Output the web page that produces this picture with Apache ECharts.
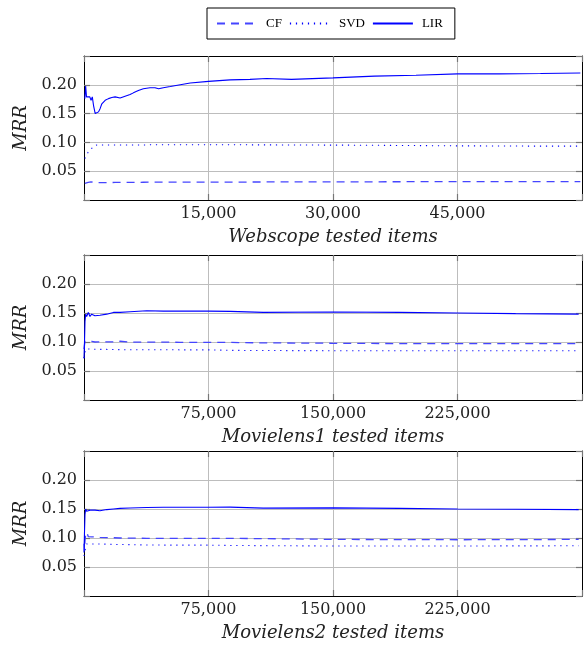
<!DOCTYPE html>
<html>
<head>
<meta charset="utf-8">
<script src="https://cdn.jsdelivr.net/npm/echarts@6/dist/echarts.min.js"></script>
<style>
html,body{margin:0;padding:0;background:#fff;}
#chart{width:585px;height:645px;}
</style>
</head>
<body>
<div id="chart"></div>
<script>
// ---------- Data ----------
const seriesNames = ['CF', 'SVD', 'LIR'];
const panelTitles = ['Webscope tested items', 'Movielens1 tested items', 'Movielens2 tested items'];

const yTicks = [0.05, 0.10, 0.15, 0.20];
const webscopeTicks = [15000, 30000, 45000];
const movielensTicks = [75000, 150000, 225000];

// Webscope
const webscopeX   = [100, 200, 300, 500, 700, 850, 1000, 1150, 1350, 1550, 1750, 1950, 2150, 2550, 2950, 3350, 3750, 4350, 4950, 5550, 5950, 6550, 7150, 7950, 8550, 9000, 9550, 10400, 11600, 12800, 15000, 17600, 20000, 22000, 25000, 30000, 35000, 40000, 45000, 50000, 55000, 59800];
const webscopeLIR = [0.176, 0.198, 0.179, 0.176, 0.179, 0.173, 0.179, 0.164, 0.150, 0.150, 0.153, 0.159, 0.167, 0.173, 0.176, 0.178, 0.179, 0.177, 0.180, 0.183, 0.186, 0.190, 0.193, 0.195, 0.195, 0.193, 0.195, 0.197, 0.200, 0.203, 0.206, 0.2085, 0.2095, 0.211, 0.2095, 0.212, 0.215, 0.2165, 0.219, 0.219, 0.2195, 0.2205];
const webscopeSVD = [0.072, 0.075, 0.078, 0.083, 0.086, 0.088, 0.091, 0.094, 0.095, 0.0955, 0.0955, 0.0955, 0.0955, 0.0955, 0.0955, 0.0955, 0.0955, 0.0955, 0.0955, 0.0955, 0.0955, 0.0955, 0.0955, 0.0958, 0.0958, 0.0958, 0.0958, 0.0958, 0.096, 0.096, 0.096, 0.096, 0.0958, 0.0957, 0.0955, 0.0953, 0.095, 0.0945, 0.094, 0.0938, 0.0935, 0.0935];
const webscopeCF  = [0.029, 0.029, 0.030, 0.0305, 0.031, 0.0315, 0.031, 0.0305, 0.0303, 0.0302, 0.0302, 0.0302, 0.0302, 0.0303, 0.0303, 0.0304, 0.0305, 0.0305, 0.0305, 0.0306, 0.0306, 0.0307, 0.0308, 0.0309, 0.031, 0.031, 0.031, 0.031, 0.031, 0.031, 0.031, 0.031, 0.0312, 0.0313, 0.0314, 0.0315, 0.0316, 0.0318, 0.032, 0.032, 0.032, 0.032];

// Movielens1
const ml1X   = [0, 300, 600, 1000, 1600, 2600, 3600, 4600, 6600, 9600, 13700, 17700, 21700, 27800, 37800, 47900, 57900, 75000, 88000, 108000, 150000, 190000, 225000, 260000, 298000];
const ml1LIR = [0.072, 0.100, 0.1355, 0.148, 0.144, 0.151, 0.144, 0.148, 0.1453, 0.146, 0.148, 0.151, 0.151, 0.1522, 0.154, 0.1533, 0.1533, 0.1533, 0.1528, 0.151, 0.1518, 0.151, 0.150, 0.149, 0.148];
const ml1SVD = [0.072, 0.075, 0.083, 0.088, 0.088, 0.088, 0.088, 0.0878, 0.0875, 0.0873, 0.0872, 0.087, 0.0868, 0.0867, 0.0866, 0.0866, 0.0865, 0.0865, 0.0856, 0.0853, 0.085, 0.085, 0.085, 0.085, 0.085];
const ml1CF  = [0.088, 0.095, 0.101, 0.101, 0.100, 0.1005, 0.1005, 0.101, 0.100, 0.1003, 0.1003, 0.1003, 0.1013, 0.0998, 0.0998, 0.0998, 0.0995, 0.0995, 0.0993, 0.0985, 0.0978, 0.0973, 0.0971, 0.0971, 0.0971];

// Movielens2
const ml2X   = [0, 300, 600, 1000, 1600, 2600, 3600, 4600, 6600, 9600, 13700, 17700, 21700, 27800, 37800, 47900, 57900, 75000, 88000, 108000, 150000, 190000, 225000, 260000, 298000];
const ml2LIR = [0.075, 0.110, 0.140, 0.150, 0.146, 0.149, 0.148, 0.149, 0.148, 0.147, 0.149, 0.150, 0.151, 0.1517, 0.1525, 0.153, 0.153, 0.153, 0.1533, 0.1515, 0.152, 0.151, 0.150, 0.1495, 0.149];
const ml2SVD = [0.069, 0.070, 0.078, 0.085, 0.0897, 0.089, 0.0895, 0.0897, 0.0897, 0.0897, 0.0893, 0.089, 0.0888, 0.0885, 0.0879, 0.0878, 0.0877, 0.0877, 0.0872, 0.0868, 0.0862, 0.0862, 0.0862, 0.0864, 0.0866];
const ml2CF  = [0.090, 0.078, 0.095, 0.105, 0.110, 0.1023, 0.1025, 0.102, 0.102, 0.101, 0.1005, 0.1005, 0.100, 0.0998, 0.0995, 0.0995, 0.0995, 0.0995, 0.0993, 0.099, 0.0976, 0.0972, 0.097, 0.0972, 0.0976];

const panels = [
  {x: webscopeX, cf: webscopeCF, svd: webscopeSVD, lir: webscopeLIR, xMax: 60000, xInterval: 15000, title: panelTitles[0]},
  {x: ml1X, cf: ml1CF, svd: ml1SVD, lir: ml1LIR, xMax: 300000, xInterval: 75000, title: panelTitles[1]},
  {x: ml2X, cf: ml2CF, svd: ml2SVD, lir: ml2LIR, xMax: 300000, xInterval: 75000, title: panelTitles[2]}
];

// ---------- Layout / style ----------
const FONT = 'DejaVu Serif';
const BLUE = '#0000ff';
const LIGHTBLUE = '#4545ff';
const gridTops = [56, 255, 451];
const gridHeights = [144, 145, 145];

const grids = [], xAxes = [], yAxes = [], series = [];

panels.forEach((p, i) => {
  grids.push({left: 84, right: 3, top: gridTops[i], height: gridHeights[i]});
  const xLabelFmt = v => (v <= 0 || v >= p.xMax) ? '' : v.toLocaleString('en-US');
  const baseX = {
    type: 'value', gridIndex: i, min: 0, max: p.xMax, interval: p.xInterval,
    axisLine: {show: true, onZero: false, lineStyle: {color: '#000', width: 1}},
    axisTick: {show: true, inside: true, length: 6, lineStyle: {color: '#777', width: 1.2}},
    splitLine: {show: false}
  };
  xAxes.push(Object.assign({}, baseX, {
    position: 'bottom',
    axisLabel: {show: true, formatter: xLabelFmt, fontFamily: FONT, fontSize: 16, color: '#222', margin: 6},
    splitLine: {show: true, lineStyle: {color: '#bdbdbd', width: 1}},
    name: p.title, nameLocation: 'middle', nameGap: 28,
    nameTextStyle: {fontFamily: FONT, fontStyle: 'italic', fontSize: 18, color: '#222'}
  }));
  xAxes.push(Object.assign({}, baseX, {position: 'top', axisLabel: {show: false}}));

  const baseY = {
    type: 'value', gridIndex: i, min: 0, max: 0.25, interval: 0.05,
    axisLine: {show: true, onZero: false, lineStyle: {color: '#000', width: 1}},
    axisTick: {show: true, inside: true, length: 6, lineStyle: {color: '#777', width: 1.2}},
    splitLine: {show: false}
  };
  yAxes.push(Object.assign({}, baseY, {
    position: 'left',
    axisLabel: {show: true, formatter: v => (v <= 0.001 || v >= 0.249) ? '' : v.toFixed(2),
      fontFamily: FONT, fontSize: 16, color: '#222', margin: 7},
    splitLine: {show: true, lineStyle: {color: '#bdbdbd', width: 1}},
    name: 'MRR', nameLocation: 'middle', nameGap: 52,
    nameTextStyle: {fontFamily: FONT, fontStyle: 'italic', fontSize: 18, color: '#222'}
  }));
  yAxes.push(Object.assign({}, baseY, {position: 'right', axisLabel: {show: false}}));

  const pair = arr => p.x.map((xv, k) => [xv, arr[k]]);
  const common = {type: 'line', xAxisIndex: 2 * i, yAxisIndex: 2 * i, symbol: 'none', silent: true, animation: false};
  series.push(Object.assign({}, common, {name: seriesNames[0], data: pair(p.cf),
    lineStyle: {color: LIGHTBLUE, width: 1.3, type: [8, 6]}, itemStyle: {color: LIGHTBLUE}}));
  series.push(Object.assign({}, common, {name: seriesNames[1], data: pair(p.svd),
    lineStyle: {color: BLUE, width: 1.1, type: [1.2, 4.8]}, itemStyle: {color: BLUE}}));
  series.push(Object.assign({}, common, {name: seriesNames[2], data: pair(p.lir),
    lineStyle: {color: BLUE, width: 1.1, type: 'solid'}, itemStyle: {color: BLUE}}));
});

const chart = echarts.init(document.getElementById('chart'), null, {renderer: 'canvas'});
chart.setOption({
  animation: false,
  backgroundColor: '#fff',
  legend: {
    data: seriesNames, top: 8, left: 207,
    orient: 'horizontal',
    borderColor: '#000', borderWidth: 1, borderRadius: 0,
    padding: [9, 12, 9, 9],
    itemWidth: 40, itemHeight: 14, itemGap: 7,
    itemStyle: {opacity: 0},
    textStyle: {fontFamily: 'Liberation Serif', fontSize: 13, color: '#000', padding: [0, 0, 0, 4]}
  },
  grid: grids,
  xAxis: xAxes,
  yAxis: yAxes,
  series: series
});
</script>
</body>
</html>
